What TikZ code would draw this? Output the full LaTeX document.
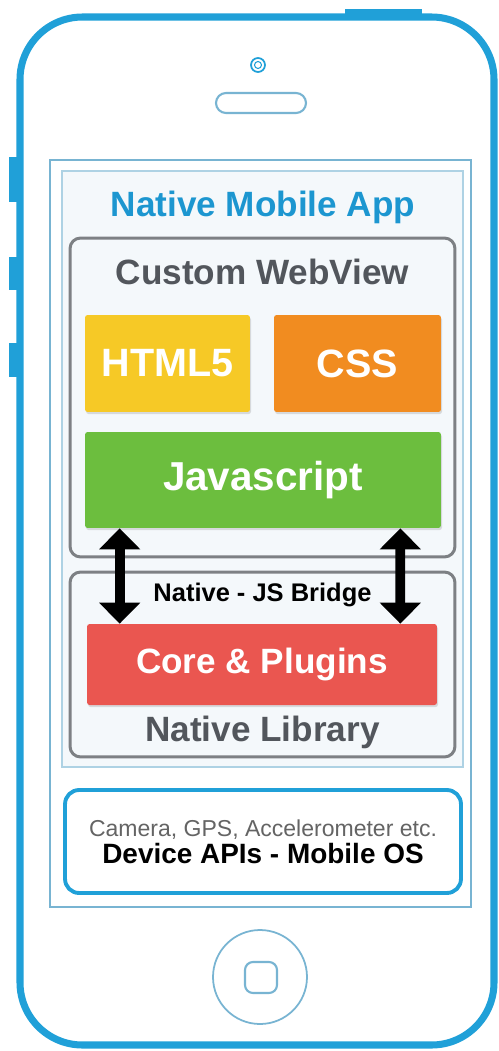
\documentclass[tikz,border=0pt]{standalone}
\usepackage{fontspec}
\setmainfont{Liberation Sans}
\usepackage{tikz}
\usetikzlibrary{arrows.meta,positioning,shadows}
\definecolor{phblue}{RGB}{32,160,216}
\definecolor{ttblue}{RGB}{28,150,208}
\definecolor{scrblue}{RGB}{120,180,210}
\definecolor{scrfill}{RGB}{244,248,251}
\definecolor{bxgray}{RGB}{125,128,132}
\definecolor{txgray}{RGB}{82,86,92}
\definecolor{ltgray}{RGB}{100,100,100}
\definecolor{hyellow}{RGB}{246,201,38}
\definecolor{corange}{RGB}{241,140,32}
\definecolor{jgreen}{RGB}{108,190,62}
\definecolor{pred}{RGB}{234,86,80}

\begin{document}
\begin{tikzpicture}[x=0.02cm, y=-0.02cm, >=Stealth,
  layer/.style={draw=bxgray,line width=1.7pt,rounded corners=6pt,fill=scrfill},
  tech/.style={rounded corners=1.5pt,font=\fontsize{22.5}{24}\selectfont\bfseries,
               text=white,drop shadow={shadow xshift=0.6pt,shadow yshift=-1.2pt,opacity=0.25}},
  ltitle/.style={font=\fontsize{20}{22}\selectfont\bfseries,text=txgray},
  bridge/.style={<->,line width=5.5pt,>={Triangle[width=0.8cm,length=0.42cm]}}]
  \useasboundingbox (0,0) rectangle (499,1051);
  % phone body
  \fill[phblue] (345,9) rectangle (422,18);
  \fill[phblue] (9,157) rectangle (20,202);
  \fill[phblue] (9,257) rectangle (20,290);
  \fill[phblue] (9,343) rectangle (20,377);
  \draw[phblue,line width=4pt,rounded corners=1.25cm,fill=white] (20,17) rectangle (494,1045);
  \draw[phblue,line width=1pt] (258,65) circle (7);
  \draw[phblue,line width=0.6pt] (258,65) circle (3.5);
  \draw[scrblue,line width=1.2pt,rounded corners=0.2cm] (216,93) rectangle (306,113);
  \draw[scrblue,line width=1pt] (260,977) circle (47);
  \draw[scrblue,line width=1.2pt,rounded corners=0.16cm] (245,962) rectangle (277,993);
  % screen
  \draw[scrblue,line width=1.2pt] (50,160) rectangle (471,907);
  \draw[scrblue!60,line width=0.8pt,fill=scrfill] (62,171) rectangle (463,767);
  \node[font=\fontsize{20}{22}\selectfont\bfseries,text=ttblue] (app) at (263,207) {Native Mobile App};
  % webview
  \node[layer,minimum width=7.7cm,minimum height=6.38cm] (web) at (262.5,397.5) {};
  \node[ltitle] (webt) at (262.5,272) {Custom WebView};
  \node[tech,fill=hyellow,minimum width=3.3cm,minimum height=1.94cm] (html) at (167.5,363.5) {HTML5};
  \node[tech,fill=corange,minimum width=3.34cm,minimum height=1.94cm] (css) at (357.5,363.5) {CSS};
  \node[tech,fill=jgreen,minimum width=7.12cm,minimum height=1.92cm,
        font=\fontsize{23}{24}\selectfont\bfseries] (js) at (263,480) {Javascript};
  % native library
  \node[layer,minimum width=7.7cm,minimum height=3.7cm] (lib) at (262.5,664.5) {};
  \node[font=\fontsize{14.5}{16}\selectfont\bfseries] (brg) at (262.5,595) {Native - JS Bridge};
  \node[tech,fill=pred,minimum width=7cm,minimum height=1.62cm,
        font=\fontsize{20}{22}\selectfont\bfseries] (core) at (262,664.5) {Core \& Plugins};
  \node[ltitle] (libt) at (262.5,732) {Native Library};
  \draw[bridge] ([xshift=0.7cm]js.south west) -- ([xshift=0.66cm]core.north west);
  \draw[bridge] ([xshift=-0.82cm]js.south east) -- ([xshift=-0.74cm]core.north east);
  % device apis
  \node[draw=phblue,line width=2.2pt,rounded corners=8pt,minimum width=7.92cm,
        minimum height=2.06cm,align=center] (dev) at (263,841.5)
        {{\fontsize{13.1}{15}\selectfont\color{ltgray}Camera, GPS, Accelerometer etc.}\\[1pt]
         {\fontsize{15.9}{17}\selectfont\bfseries Device APIs - Mobile OS}};
\end{tikzpicture}
\end{document}
